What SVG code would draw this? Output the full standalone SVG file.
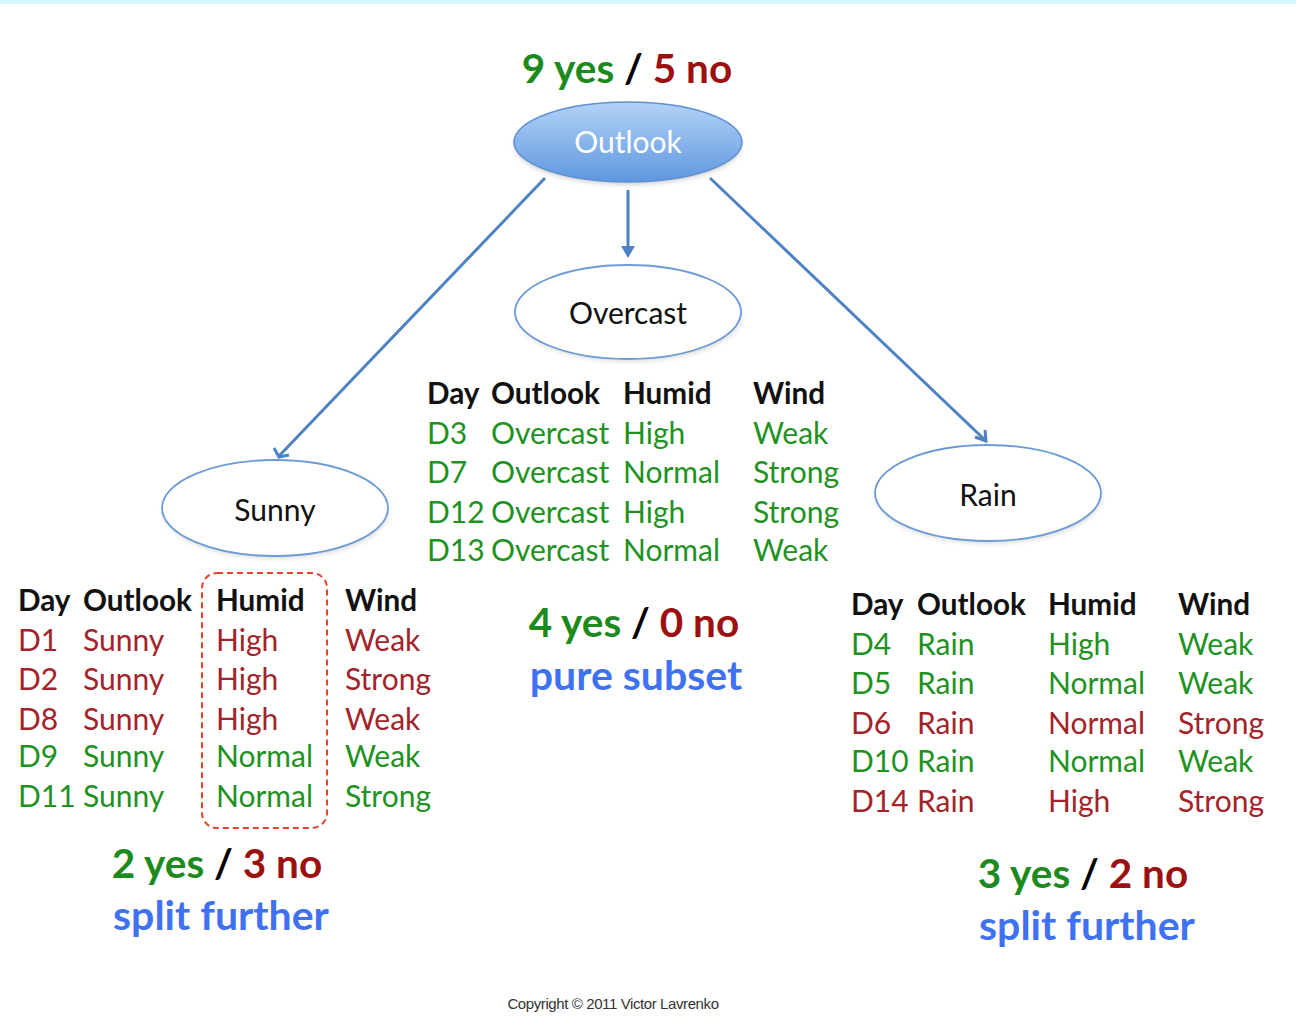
<svg xmlns="http://www.w3.org/2000/svg" width="1296" height="1018" viewBox="0 0 1296 1018">
  <style>
    text { font-family: Lato, "Open Sans", "Liberation Sans", sans-serif; }
    .hd { font-weight: bold; font-size: 29.7px; fill: #111; }
    .cell { font-size: 30px; }
    .g { fill: #21921f; }
    .r { fill: #a3232b; }
    .node { fill: #fff; stroke: #6c9bd6; stroke-width: 1.8; }
    .lbl { font-size: 30px; fill: #111; text-anchor: middle; }
    .count { font-weight: bold; font-size: 40.5px; text-anchor: middle; }
    .cg { fill: #1d8a1d; }
    .cr { fill: #9c1010; }
    .ck { fill: #000; }
    .note { font-weight: bold; font-size: 41px; fill: #3f72f2; text-anchor: middle; }
    .edge { stroke: #4f82c2; stroke-width: 3; fill: none; }
  </style>
  <defs>
    <linearGradient id="rootFill" x1="0" y1="0" x2="0" y2="1">
      <stop offset="0" stop-color="#b3d2f6"/>
      <stop offset="1" stop-color="#5e97e0"/>
    </linearGradient>
    <filter id="shadow" x="-20%" y="-20%" width="140%" height="150%">
      <feGaussianBlur stdDeviation="2"/>
    </filter>
  </defs>

  <rect x="0" y="0" width="1296" height="1018" fill="#fff"/>
  <rect x="0" y="0" width="1296" height="4" fill="#d4f6fd"/>

  <!-- root counts -->
  <text class="count" x="627" y="83"><tspan class="cg">9 yes</tspan><tspan class="ck"> / </tspan><tspan class="cr">5 no</tspan></text>

  <!-- connectors -->
  <g id="edges">
    <line class="edge" x1="545" y1="178" x2="279" y2="456"/>
    <path class="edge" d="M274,448 L279,457 L289,455"/>
    <line class="edge" x1="628" y1="190" x2="628" y2="254"/>
    <path d="M621,246 L635,246 L628,258 Z" fill="#4f82c2"/>
    <line class="edge" x1="710" y1="178" x2="985" y2="440"/>
    <path class="edge" d="M975,437 L986,441 L985,430"/>
  </g>

  <!-- Outlook -->
  <g id="node-outlook">
    <ellipse cx="628" cy="145" rx="114" ry="40" fill="#888" opacity="0.35" filter="url(#shadow)"/>
    <ellipse cx="628" cy="142" rx="114" ry="40" fill="url(#rootFill)" stroke="#5f90d2" stroke-width="1.5"/>
    <text class="lbl" x="628" y="153" style="fill:#fff">Outlook</text>
  </g>

  <!-- Overcast -->
  <g id="node-overcast">
    <ellipse cx="629" cy="315" rx="113" ry="47" fill="#999" opacity="0.3" filter="url(#shadow)"/>
    <ellipse class="node" cx="628" cy="312" rx="113" ry="47"/>
    <text class="lbl" x="628" y="324">Overcast</text>
  </g>

  <!-- Sunny -->
  <g id="node-sunny">
    <ellipse cx="276" cy="511" rx="113" ry="48" fill="#999" opacity="0.3" filter="url(#shadow)"/>
    <ellipse class="node" cx="275" cy="508" rx="113" ry="48"/>
    <text class="lbl" x="275" y="521">Sunny</text>
  </g>

  <!-- Rain -->
  <g id="node-rain">
    <ellipse cx="989" cy="496" rx="113" ry="48" fill="#999" opacity="0.3" filter="url(#shadow)"/>
    <ellipse class="node" cx="988" cy="493" rx="113" ry="48"/>
    <text class="lbl" x="988" y="506">Rain</text>
  </g>

  <!-- Overcast subset -->
  <g id="table-overcast">
    <text class="hd" x="427" y="404">Day</text>
    <text class="hd" x="491" y="404">Outlook</text>
    <text class="hd" x="623" y="404">Humid</text>
    <text class="hd" x="753" y="404">Wind</text>
    <g class="cell g">
      <text x="427" y="444">D3</text><text x="491" y="444">Overcast</text><text x="623" y="444">High</text><text x="753" y="444">Weak</text>
      <text x="427" y="483">D7</text><text x="491" y="483">Overcast</text><text x="623" y="483">Normal</text><text x="753" y="483">Strong</text>
      <text x="427" y="523">D12</text><text x="491" y="523">Overcast</text><text x="623" y="523">High</text><text x="753" y="523">Strong</text>
      <text x="427" y="561">D13</text><text x="491" y="561">Overcast</text><text x="623" y="561">Normal</text><text x="753" y="561">Weak</text>
    </g>
    <text class="count" x="634" y="637"><tspan class="cg">4 yes</tspan><tspan class="ck"> / </tspan><tspan class="cr">0 no</tspan></text>
    <text class="note" x="636" y="690">pure subset</text>
  </g>

  <!-- Sunny subset -->
  <g id="table-sunny">
    <rect x="202" y="573" width="125" height="255" rx="15" fill="none" stroke="#e8432c" stroke-width="2" stroke-dasharray="6,4"/>
    <text class="hd" x="18" y="611">Day</text>
    <text class="hd" x="83" y="611">Outlook</text>
    <text class="hd" x="216" y="611">Humid</text>
    <text class="hd" x="345" y="611">Wind</text>
    <g class="cell r">
      <text x="18" y="651">D1</text><text x="83" y="651">Sunny</text><text x="216" y="651">High</text><text x="345" y="651">Weak</text>
      <text x="18" y="690">D2</text><text x="83" y="690">Sunny</text><text x="216" y="690">High</text><text x="345" y="690">Strong</text>
      <text x="18" y="730">D8</text><text x="83" y="730">Sunny</text><text x="216" y="730">High</text><text x="345" y="730">Weak</text>
    </g>
    <g class="cell g">
      <text x="18" y="767">D9</text><text x="83" y="767">Sunny</text><text x="216" y="767">Normal</text><text x="345" y="767">Weak</text>
      <text x="18" y="807">D11</text><text x="83" y="807">Sunny</text><text x="216" y="807">Normal</text><text x="345" y="807">Strong</text>
    </g>
    <text class="count" x="217" y="878"><tspan class="cg">2 yes</tspan><tspan class="ck"> / </tspan><tspan class="cr">3 no</tspan></text>
    <text class="note" x="221" y="930">split further</text>
  </g>

  <!-- Rain subset -->
  <g id="table-rain">
    <text class="hd" x="851" y="615">Day</text>
    <text class="hd" x="917" y="615">Outlook</text>
    <text class="hd" x="1048" y="615">Humid</text>
    <text class="hd" x="1178" y="615">Wind</text>
    <g class="cell">
      <text class="g" x="851" y="655">D4</text><text class="g" x="917" y="655">Rain</text><text class="g" x="1048" y="655">High</text><text class="g" x="1178" y="655">Weak</text>
      <text class="g" x="851" y="694">D5</text><text class="g" x="917" y="694">Rain</text><text class="g" x="1048" y="694">Normal</text><text class="g" x="1178" y="694">Weak</text>
      <text class="r" x="851" y="734">D6</text><text class="r" x="917" y="734">Rain</text><text class="r" x="1048" y="734">Normal</text><text class="r" x="1178" y="734">Strong</text>
      <text class="g" x="851" y="772">D10</text><text class="g" x="917" y="772">Rain</text><text class="g" x="1048" y="772">Normal</text><text class="g" x="1178" y="772">Weak</text>
      <text class="r" x="851" y="812">D14</text><text class="r" x="917" y="812">Rain</text><text class="r" x="1048" y="812">High</text><text class="r" x="1178" y="812">Strong</text>
    </g>
    <text class="count" x="1083" y="888"><tspan class="cg">3 yes</tspan><tspan class="ck"> / </tspan><tspan class="cr">2 no</tspan></text>
    <text class="note" x="1087" y="940">split further</text>
  </g>

  <text x="613" y="1009" text-anchor="middle" style="font-family:'Liberation Sans',Arial,sans-serif;font-size:15px;fill:#333;letter-spacing:-0.4px">Copyright © 2011 Victor Lavrenko</text>
</svg>
